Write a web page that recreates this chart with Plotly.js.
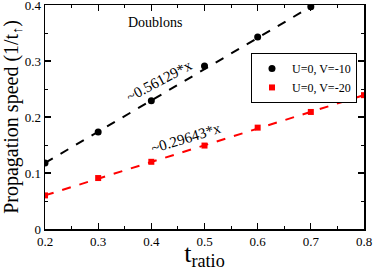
<!DOCTYPE html>
<html><head><meta charset="utf-8">
<script src="https://cdn.plot.ly/plotly-3.0.1.min.js"></script>
<style>html,body{margin:0;padding:0;background:#fff}#c{width:374px;height:271px}</style>
</head><body><div id="c"></div>
<script>
var tRatio10 = [0.2, 0.3, 0.4, 0.5, 0.6, 0.7];
var speed10 = [0.118, 0.173, 0.229, 0.291, 0.343, 0.397];
var tRatio20 = [0.2, 0.3, 0.4, 0.5, 0.6, 0.7, 0.8];
var speed20 = [0.060, 0.091, 0.120, 0.149, 0.181, 0.209, 0.239];
var fitX10 = [0.2, 0.7];
var fitY10 = [0.118, 0.397];
var fitX20 = [0.2, 0.8];
var fitY20 = [0.060, 0.239];
var xTicks = [0.2, 0.3, 0.4, 0.5, 0.6, 0.7, 0.8];
var xTickText = ["0.2", "0.3", "0.4", "0.5", "0.6", "0.7", "0.8"];
var yTicks = [0, 0.1, 0.2, 0.3, 0.4];
var yTickText = ["0", "0.1", "0.2", "0.3", "0.4"];

var font = "Liberation Serif";
var traces = [
  {x: fitX10, y: fitY10, mode: "lines", line: {color: "black", width: 2, dash: "dash"}, showlegend: false, hoverinfo: "skip"},
  {x: fitX20, y: fitY20, mode: "lines", line: {color: "#ff0000", width: 2, dash: "dash"}, showlegend: false, hoverinfo: "skip"},
  {x: tRatio10, y: speed10, mode: "markers", name: "U=0, V=-10", marker: {color: "black", size: 7, symbol: "circle"}},
  {x: tRatio20, y: speed20, mode: "markers", name: "U=0, V=-20", marker: {color: "#ff0000", size: 6, symbol: "square"}}
];
var axBase = {showgrid: false, zeroline: false, showline: true, linecolor: "black", linewidth: 1.5, mirror: "ticks", ticks: "inside", ticklen: 6, tickwidth: 1.2, tickcolor: "black", ticklabeloverflow: "allow", tickfont: {family: font, size: 13, color: "black"}};
var layout = {
  width: 374, height: 271,
  margin: {l: 45, r: 10, t: 5, b: 42},
  paper_bgcolor: "white", plot_bgcolor: "white",
  font: {family: font, color: "black"},
  xaxis: Object.assign({}, axBase, {range: [0.2, 0.8], tickvals: xTicks, ticktext: xTickText, minor: {ticks: "inside", ticklen: 3, tickwidth: 1, tickcolor: "black", dtick: 0.05}, title: {text: "t<sub>ratio</sub>", font: {family: font, size: 26, color: "black"}, standoff: 0}}),
  yaxis: Object.assign({}, axBase, {range: [0, 0.4], tickvals: yTicks, ticktext: yTickText, minor: {ticks: "inside", ticklen: 3, tickwidth: 1, tickcolor: "black", dtick: 0.05}, title: {text: "Propagation speed (1/t<sub>↑</sub>)", font: {family: font, size: 20, color: "black"}, standoff: 3}}),
  legend: {x: 0.978, y: 0.786, xanchor: "right", yanchor: "top", bgcolor: "white", bordercolor: "black", borderwidth: 1, font: {family: font, size: 12, color: "black"}, itemwidth: 30, tracegroupgap: 0},
  annotations: [
    {x: 0.406, y: 0.368, xref: "x", yref: "y", text: "Doublons", showarrow: false, font: {family: font, size: 14, color: "black"}},
    {x: 0.414, y: 0.265, xref: "x", yref: "y", text: "~0.56129*x", showarrow: false, textangle: -28, font: {family: font, size: 15, color: "black"}},
    {x: 0.466, y: 0.1625, xref: "x", yref: "y", text: "~0.29643*x", showarrow: false, textangle: -17, font: {family: font, size: 15, color: "black"}}
  ]
};
Plotly.newPlot("c", traces, layout, {displayModeBar: false, staticPlot: true});
</script></body></html>
